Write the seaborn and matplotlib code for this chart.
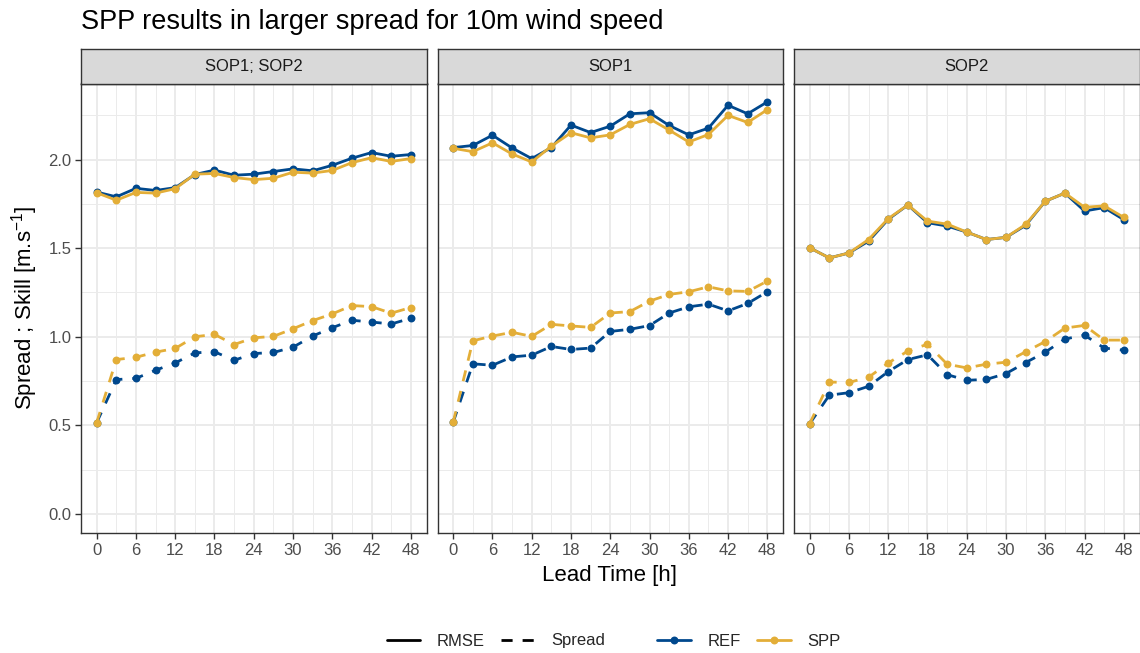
import matplotlib
matplotlib.use("Agg")
import matplotlib.pyplot as plt
from matplotlib.lines import Line2D
from matplotlib.ticker import MultipleLocator, FormatStrFormatter
import pandas as pd
import seaborn as sns

# ---- data -------------------------------------------------------------
lead_time = [0, 3, 6, 9, 12, 15, 18, 21, 24, 27, 30, 33, 36, 39, 42, 45, 48]
periods = ["SOP1; SOP2", "SOP1", "SOP2"]
models = ["REF", "SPP"]
metrics = ["RMSE", "Spread"]

rmse_ref_sop12 = [1.817, 1.790, 1.838, 1.826, 1.842, 1.916, 1.941, 1.912, 1.918,
                  1.933, 1.948, 1.937, 1.968, 2.008, 2.040, 2.019, 2.029]
rmse_spp_sop12 = [1.813, 1.771, 1.815, 1.811, 1.836, 1.918, 1.922, 1.899, 1.887,
                  1.895, 1.929, 1.924, 1.939, 1.983, 2.011, 1.990, 2.006]
spread_ref_sop12 = [0.515, 0.758, 0.765, 0.811, 0.852, 0.909, 0.915, 0.867, 0.905,
                    0.911, 0.941, 1.004, 1.051, 1.093, 1.083, 1.072, 1.104]
spread_spp_sop12 = [0.515, 0.871, 0.884, 0.913, 0.934, 1.000, 1.013, 0.956, 0.994,
                    1.002, 1.045, 1.091, 1.129, 1.176, 1.170, 1.133, 1.165]

rmse_ref_sop1 = [2.068, 2.080, 2.138, 2.066, 2.006, 2.068, 2.195, 2.153, 2.189,
                 2.259, 2.265, 2.193, 2.140, 2.178, 2.307, 2.259, 2.326]
rmse_spp_sop1 = [2.064, 2.045, 2.095, 2.032, 1.987, 2.076, 2.152, 2.123, 2.140,
                 2.199, 2.231, 2.167, 2.100, 2.142, 2.250, 2.210, 2.282]
spread_ref_sop1 = [0.517, 0.847, 0.839, 0.886, 0.896, 0.945, 0.928, 0.936, 1.030,
                   1.042, 1.063, 1.134, 1.169, 1.184, 1.146, 1.188, 1.254]
spread_spp_sop1 = [0.517, 0.977, 1.004, 1.025, 1.002, 1.070, 1.061, 1.053, 1.134,
                   1.142, 1.201, 1.239, 1.254, 1.282, 1.259, 1.256, 1.314]

rmse_ref_sop2 = [1.502, 1.445, 1.473, 1.540, 1.663, 1.744, 1.644, 1.625, 1.591,
                 1.549, 1.561, 1.629, 1.765, 1.811, 1.710, 1.729, 1.661]
rmse_spp_sop2 = [1.502, 1.445, 1.473, 1.549, 1.667, 1.744, 1.653, 1.636, 1.591,
                 1.549, 1.561, 1.634, 1.765, 1.811, 1.731, 1.739, 1.674]
spread_ref_sop2 = [0.509, 0.670, 0.684, 0.720, 0.803, 0.871, 0.898, 0.786, 0.754,
                   0.759, 0.792, 0.854, 0.913, 0.987, 1.009, 0.936, 0.924]
spread_spp_sop2 = [0.509, 0.744, 0.742, 0.771, 0.852, 0.919, 0.958, 0.845, 0.824,
                   0.845, 0.856, 0.915, 0.973, 1.049, 1.064, 0.981, 0.981]

series = {
    ("SOP1; SOP2", "REF", "RMSE"): rmse_ref_sop12,
    ("SOP1; SOP2", "SPP", "RMSE"): rmse_spp_sop12,
    ("SOP1; SOP2", "REF", "Spread"): spread_ref_sop12,
    ("SOP1; SOP2", "SPP", "Spread"): spread_spp_sop12,
    ("SOP1", "REF", "RMSE"): rmse_ref_sop1,
    ("SOP1", "SPP", "RMSE"): rmse_spp_sop1,
    ("SOP1", "REF", "Spread"): spread_ref_sop1,
    ("SOP1", "SPP", "Spread"): spread_spp_sop1,
    ("SOP2", "REF", "RMSE"): rmse_ref_sop2,
    ("SOP2", "SPP", "RMSE"): rmse_spp_sop2,
    ("SOP2", "REF", "Spread"): spread_ref_sop2,
    ("SOP2", "SPP", "Spread"): spread_spp_sop2,
}

rows = []
for (period, model, metric), values in series.items():
    for t, v in zip(lead_time, values):
        rows.append({"period": period, "model": model, "metric": metric,
                     "lead": t, "value": v})
df = pd.DataFrame(rows)

# ---- style ------------------------------------------------------------
sns.set_theme(style="white")
plt.rcParams["font.family"] = ["Liberation Sans", "DejaVu Sans"]
plt.rcParams["mathtext.fontset"] = "custom"
plt.rcParams["mathtext.rm"] = "Liberation Sans"
plt.rcParams["mathtext.it"] = "Liberation Sans:italic"
plt.rcParams["mathtext.default"] = "regular"

palette = {"REF": "#00488D", "SPP": "#E3AE38"}
dash_spread = (4.0, 3.6)
dashes = {"RMSE": "", "Spread": dash_spread}
grey20 = "#333333"
grey30 = "#4D4D4D"
lw = 2.0

W, H = 1140, 653
fig = plt.figure(figsize=(W / 100, H / 100), dpi=100)

panel_w = 345.5
gap = 11.0
left0 = 81.0
top_px, bottom_px = 83.5, 533.3
strip_top = 49.3

for i, period in enumerate(periods):
    lpx = left0 + i * (panel_w + gap)
    ax = fig.add_axes([lpx / W, 1 - bottom_px / H, panel_w / W,
                       (bottom_px - top_px) / H])
    sub = df[df["period"] == period]
    for model in models:
        sns.lineplot(data=sub[sub["model"] == model], x="lead", y="value",
                     hue="model", style="metric", palette=palette,
                     dashes=dashes, markers={"RMSE": "o", "Spread": "o"},
                     style_order=metrics, markersize=5.7, markeredgewidth=0,
                     linewidth=lw, errorbar=None, legend=False, ax=ax)

    ax.set_xlim(-2.4, 50.4)
    ax.set_ylim(-0.11, 2.43)
    ax.xaxis.set_major_locator(MultipleLocator(6))
    ax.xaxis.set_minor_locator(MultipleLocator(3))
    ax.yaxis.set_major_locator(MultipleLocator(0.5))
    ax.yaxis.set_minor_locator(MultipleLocator(0.25))
    ax.yaxis.set_major_formatter(FormatStrFormatter("%.1f"))
    ax.set_axisbelow(True)
    ax.grid(which="major", color="#EBEBEB", linewidth=1.4)
    ax.grid(which="minor", color="#EBEBEB", linewidth=0.7)
    ax.tick_params(which="major", length=4, width=1.0, color=grey20,
                   labelcolor=grey30, labelsize=12, pad=3)
    ax.tick_params(which="minor", length=0)
    ax.tick_params(axis="x", bottom=True)
    if i == 0:
        ax.tick_params(axis="y", left=True)
    else:
        ax.tick_params(axis="y", left=False, labelleft=False)
    for sp in ax.spines.values():
        sp.set_color(grey20)
        sp.set_linewidth(1.0)
    ax.set_xlabel("")
    ax.set_ylabel("")

    # facet strip
    sax = fig.add_axes([lpx / W, 1 - top_px / H, panel_w / W,
                        (top_px - strip_top) / H])
    sax.set_facecolor("#D9D9D9")
    sax.set_xticks([])
    sax.set_yticks([])
    for sp in sax.spines.values():
        sp.set_color(grey20)
        sp.set_linewidth(1.0)
    sax.text(0.5, 0.5, period, ha="center", va="center", fontsize=12,
             color="#1A1A1A", transform=sax.transAxes)

# titles and axis labels
fig.text(81 / W, 1 - 22 / H, "SPP results in larger spread for 10m wind speed",
         ha="left", va="center", fontsize=19.5, color="black")
fig.text(610 / W, 1 - 576 / H, "Lead Time [h]", ha="center", va="center",
         fontsize=16, color="black")
fig.text(25 / W, 1 - 308 / H, r"Spread ; Skill [m.s$^{-1}$]", ha="center",
         va="center", rotation=90, fontsize=16, color="black")

# legends
metric_handles = [
    Line2D([], [], color="black", linewidth=lw),
    Line2D([], [], color="black", linewidth=lw, linestyle=(0, dash_spread)),
]
model_handles = [
    Line2D([], [], color=palette[m], linewidth=lw, marker="o", markersize=5.7,
           markeredgewidth=0) for m in models
]
leg_kw = dict(loc="center", frameon=False, fontsize=12, handlelength=2.0,
              handletextpad=1.0, columnspacing=1.0, ncol=2)
fig.legend(metric_handles, metrics, bbox_to_anchor=(496 / W, 1 - 641 / H), **leg_kw)
fig.legend(model_handles, models, bbox_to_anchor=(749 / W, 1 - 641 / H), **leg_kw)

fig.savefig("out.png", dpi=100, facecolor="white")
